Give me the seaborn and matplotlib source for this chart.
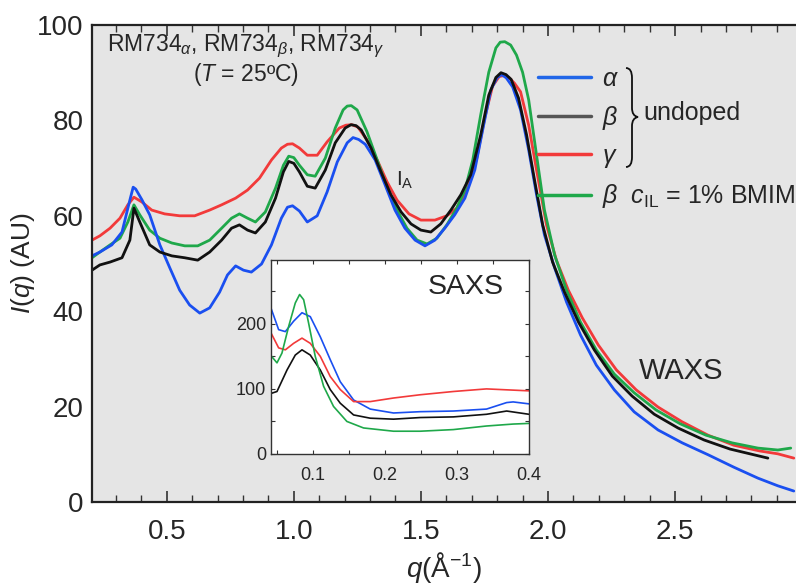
import numpy as np
import pandas as pd
import matplotlib
matplotlib.use("Agg")
import matplotlib.pyplot as plt
from matplotlib.lines import Line2D
from matplotlib.path import Path
from matplotlib.patches import PathPatch
import seaborn as sns

# ---------------- data ----------------
q_alpha = [0.206, 0.237, 0.284, 0.324, 0.355, 0.368, 0.378, 0.402, 0.433, 0.473, 0.512, 0.551, 0.590, 0.630, 0.669,
           0.708, 0.739, 0.771, 0.802, 0.833, 0.873, 0.912, 0.951, 0.975, 0.995, 1.022, 1.053, 1.092, 1.131, 1.171,
           1.210, 1.233, 1.255, 1.281, 1.320, 1.359, 1.398, 1.437, 1.477, 1.516, 1.555, 1.594, 1.633, 1.673, 1.712,
           1.743, 1.775, 1.800, 1.818, 1.836, 1.861, 1.892, 1.924, 1.955, 1.986, 2.026, 2.073, 2.128, 2.190, 2.261,
           2.339, 2.433, 2.528, 2.630, 2.731, 2.826, 2.904, 2.967]
I_alpha = [51.6, 52.4, 53.9, 56.6, 63.3, 66.0, 65.6, 63.4, 60.2, 53.9, 49.1, 44.4, 41.3, 39.6, 40.7,
           44.0, 47.6, 49.5, 48.6, 48.2, 49.9, 53.9, 59.5, 61.8, 62.1, 61.0, 58.7, 60.0, 65.0, 71.3,
           75.3, 76.4, 76.0, 75.0, 71.7, 66.5, 61.2, 57.4, 54.9, 53.7, 54.9, 57.4, 60.2, 63.7, 69.6,
           78.0, 86.4, 89.0, 89.6, 88.9, 87.0, 82.2, 73.8, 64.4, 56.0, 49.1, 41.9, 35.0, 28.7, 23.5,
           18.9, 15.1, 12.4, 9.9, 7.3, 5.0, 3.4, 2.3]

q_beta = [0.206, 0.237, 0.277, 0.324, 0.355, 0.371, 0.394, 0.433, 0.473, 0.520, 0.571, 0.622, 0.669, 0.716,
          0.755, 0.786, 0.818, 0.849, 0.888, 0.928, 0.959, 0.980, 1.000, 1.022, 1.053, 1.084, 1.124, 1.163, 1.202,
          1.225, 1.245, 1.265, 1.304, 1.343, 1.382, 1.422, 1.461, 1.500, 1.539, 1.578, 1.618, 1.657, 1.696, 1.735,
          1.767, 1.795, 1.815, 1.835, 1.855, 1.884, 1.916, 1.947, 1.979, 2.018, 2.065, 2.120, 2.182, 2.253, 2.331,
          2.418, 2.512, 2.614, 2.716, 2.810, 2.865]
I_beta = [48.6, 49.7, 50.3, 51.2, 54.9, 61.6, 58.7, 53.9, 52.4, 51.6, 51.2, 50.7, 52.4, 54.9,
          57.4, 58.1, 57.0, 56.4, 58.7, 63.7, 69.2, 71.4, 71.0, 69.2, 66.2, 65.8, 69.6, 75.3, 78.4,
          79.1, 78.9, 78.0, 74.2, 69.2, 64.4, 60.8, 58.3, 57.0, 56.6, 58.3, 61.2, 64.4, 68.6, 76.9,
          85.3, 89.0, 90.0, 89.6, 88.6, 84.7, 76.9, 67.5, 58.1, 50.3, 44.0, 37.7, 31.9, 26.4, 22.2,
          18.4, 15.5, 13.0, 11.1, 9.9, 9.2]

q_gamma = [0.206, 0.237, 0.277, 0.316, 0.347, 0.371, 0.402, 0.441, 0.492, 0.551, 0.610, 0.669, 0.716, 0.771,
           0.818, 0.865, 0.912, 0.951, 0.975, 0.995, 1.022, 1.053, 1.092, 1.131, 1.179, 1.205, 1.228, 1.252, 1.288, 1.328,
           1.367, 1.406, 1.453, 1.500, 1.555, 1.602, 1.641, 1.680, 1.720, 1.751, 1.782, 1.808, 1.828, 1.848, 1.868,
           1.892, 1.924, 1.955, 1.994, 2.033, 2.080, 2.135, 2.198, 2.269, 2.347, 2.433, 2.528, 2.630, 2.731,
           2.833, 2.904, 2.967]
I_gamma = [54.9, 55.8, 57.4, 59.5, 62.3, 63.9, 62.9, 61.2, 60.4, 60.0, 60.0, 61.2, 62.3, 63.7,
           65.4, 67.9, 71.7, 74.2, 75.0, 75.1, 74.2, 72.7, 72.7, 75.5, 78.4, 79.0, 79.1, 78.6, 75.9, 71.7,
           67.1, 63.3, 60.4, 59.1, 59.1, 60.0, 61.6, 65.4, 72.1, 80.5, 87.2, 89.2, 89.4, 88.9, 87.8,
           86.0, 79.0, 69.6, 58.1, 50.7, 44.4, 38.6, 32.9, 27.7, 23.5, 19.9, 16.8, 14.0, 11.9,
           10.7, 10.1, 9.2]

q_beta_il = [0.206, 0.237, 0.277, 0.316, 0.347, 0.371, 0.394, 0.433, 0.473, 0.520, 0.571, 0.622, 0.669, 0.716,
             0.755, 0.786, 0.818, 0.849, 0.888, 0.928, 0.959, 0.980, 1.000, 1.022, 1.053, 1.084, 1.124, 1.163, 1.194,
             1.210, 1.226, 1.249, 1.288, 1.328, 1.367, 1.406, 1.445, 1.485, 1.524, 1.563, 1.602, 1.641, 1.673, 1.704,
             1.735, 1.767, 1.795, 1.812, 1.830, 1.853, 1.876, 1.900, 1.924, 1.955, 1.986, 2.026, 2.073, 2.128, 2.190,
             2.261, 2.339, 2.425, 2.520, 2.622, 2.724, 2.826, 2.904, 2.955]
I_beta_il = [51.2, 52.4, 53.9, 55.3, 58.7, 62.3, 60.2, 57.0, 55.3, 54.3, 53.7, 53.7, 54.9, 57.4,
             59.5, 60.4, 59.5, 58.7, 60.8, 65.8, 70.6, 72.5, 72.2, 70.6, 68.6, 68.3, 72.1, 78.4, 82.2,
             83.0, 83.1, 82.2, 77.6, 71.7, 65.8, 61.2, 57.4, 54.9, 54.1, 55.3, 58.1, 61.6, 65.4, 71.7,
             81.1, 90.1, 95.2, 96.4, 96.5, 95.8, 93.7, 90.1, 84.3, 72.7, 61.2, 51.8, 44.4, 37.7, 31.9,
             26.8, 22.9, 19.3, 16.4, 14.0, 12.4, 11.3, 10.9, 11.3]

# inset (SAXS)
qs_alpha = [0.042, 0.0526, 0.0619, 0.0734, 0.085, 0.0965, 0.1104, 0.1242, 0.1381, 0.1566, 0.1797, 0.212,
            0.249, 0.295, 0.341, 0.369, 0.378, 0.400]
Is_alpha = [224, 191, 188, 204, 217, 211, 180, 145, 111, 83, 69, 63, 65, 66, 69, 79, 80, 77]
qs_gamma = [0.042, 0.0526, 0.0619, 0.0734, 0.085, 0.0965, 0.1104, 0.1242, 0.1381, 0.1566, 0.1797, 0.212,
            0.249, 0.295, 0.341, 0.400]
Is_gamma = [186, 163, 160, 170, 178, 170, 150, 119, 99, 80.5, 80.5, 86, 91, 96, 100, 97]
qs_beta = [0.042, 0.0503, 0.0642, 0.0757, 0.085, 0.0965, 0.1104, 0.1242, 0.1381, 0.1566, 0.1797, 0.212,
           0.249, 0.295, 0.341, 0.369, 0.400]
Is_beta = [93, 96, 129, 152, 160, 152, 129, 99, 78, 60, 55, 53.5, 56, 57, 61, 66, 61]
qs_beta_il = [0.042, 0.0503, 0.0572, 0.0665, 0.0757, 0.0817, 0.0873, 0.0942, 0.1034, 0.115, 0.1288, 0.1473,
              0.1704, 0.212, 0.249, 0.295, 0.341, 0.378, 0.400]
Is_beta_il = [151, 140, 155, 196, 232, 245, 237, 201, 150, 104, 73, 50, 40, 35, 35, 37.5, 43, 46, 47]

series_names = ["alpha", "beta", "gamma", "beta_il"]
colors = {"alpha": "#1a4ff0", "beta": "#111111", "gamma": "#f23a3a", "beta_il": "#1fa84a"}
legend_colors = {"alpha": "#2166e8", "beta": "#555555", "gamma": "#f23a3a", "beta_il": "#1fa84a"}

main_df = pd.concat([
    pd.DataFrame({"q": q_alpha, "I": I_alpha, "s": "alpha"}),
    pd.DataFrame({"q": q_beta, "I": I_beta, "s": "beta"}),
    pd.DataFrame({"q": q_gamma, "I": I_gamma, "s": "gamma"}),
    pd.DataFrame({"q": q_beta_il, "I": I_beta_il, "s": "beta_il"}),
])
saxs_df = pd.concat([
    pd.DataFrame({"q": qs_alpha, "I": Is_alpha, "s": "alpha"}),
    pd.DataFrame({"q": qs_beta, "I": Is_beta, "s": "beta"}),
    pd.DataFrame({"q": qs_gamma, "I": Is_gamma, "s": "gamma"}),
    pd.DataFrame({"q": qs_beta_il, "I": Is_beta_il, "s": "beta_il"}),
])

# ---------------- style ----------------
sns.set_style("ticks")
plt.rcParams["font.family"] = ["Liberation Sans", "DejaVu Sans"]
plt.rcParams["mathtext.fontset"] = "custom"
plt.rcParams["mathtext.rm"] = "Liberation Sans"
plt.rcParams["mathtext.it"] = "Liberation Sans:italic"
plt.rcParams["mathtext.bf"] = "Liberation Sans:bold"
plt.rcParams["axes.unicode_minus"] = False

W, H = 796, 587
fig = plt.figure(figsize=(W / 100, H / 100), dpi=100)
ax = fig.add_axes([92 / W, 1 - 502 / H, (W - 92) / W + 0.01, (502 - 25) / H])
ax.set_facecolor("#e5e5e5")

draw_order = ["gamma", "beta_il", "alpha", "beta"]
for s in draw_order:
    d = main_df[main_df.s == s]
    sns.lineplot(data=d, x="q", y="I", ax=ax, color=colors[s], lw=2.0, sort=False,
                 estimator=None, legend=False)

ax.set_xlim(0.206, 2.967 + 0.04)
ax.set_ylim(0, 100)
ax.set_xticks([0.5, 1.0, 1.5, 2.0, 2.5])
ax.set_xticklabels(["0.5", "1.0", "1.5", "2.0", "2.5"])
ax.set_xticks(np.arange(0.3, 3.0, 0.1), minor=True)
ax.set_yticks([0, 20, 40, 60, 80, 100])
ax.tick_params(axis="x", which="major", direction="in", length=8, width=1.2, top=True,
               labelsize=20, pad=12, color="#333")
ax.tick_params(axis="x", which="minor", direction="in", length=5, width=1.0, top=True, color="#333")
ax.tick_params(axis="y", which="both", length=0, labelsize=20, pad=6)
for sp in ax.spines.values():
    sp.set_linewidth(1.6)
    sp.set_color("#222222")
ax.set_xlabel(r"$q$(Å$^{\mathregular{-1}}$)", fontsize=20, labelpad=6)
ax.set_ylabel(r"$I$($q$) (AU)", fontsize=19, labelpad=0)
ax.xaxis.set_label_coords((444 - 92) / (W - 92 + 0.01 * W), -0.1)

# annotations
fig.text(246 / W, 1 - 46 / H, r"RM734$_{\alpha}$, RM734$_{\beta}$, RM734$_{\gamma}$",
         ha="center", va="center", fontsize=16.5)
fig.text(246 / W, 1 - 75 / H, r"($T$ = 25ºC)", ha="center", va="center", fontsize=16.5)
fig.text(405 / W, 1 - 180 / H, r"I$_{\mathregular{A}}$", ha="center", va="center", fontsize=15)
fig.text(681 / W, 1 - 371 / H, "WAXS", ha="center", va="center", fontsize=21)

# legend
handles = [Line2D([], [], color=legend_colors[s], lw=2.5) for s in series_names]
labels = [r"$\alpha$", r"$\beta$", r"$\gamma$", r"$\beta$  $c_{\mathregular{IL}}$ = 1% BMIM"]
leg = ax.legend(handles, labels, loc="upper left", bbox_to_anchor=(538 / W, 1 - 67 / H),
                bbox_transform=fig.transFigure, frameon=False, fontsize=18,
                handlelength=2.1, handletextpad=0.45, labelspacing=0.5, borderaxespad=0, borderpad=0)

# brace and "undoped"
pts = [(626, 68), (632, 68), (632, 78), (632, 108), (632, 116), (638, 117), (632, 118), (632, 126),
       (632, 157), (632, 167), (626, 167)]
codes = [Path.MOVETO, Path.CURVE3, Path.CURVE3, Path.LINETO, Path.CURVE3, Path.CURVE3, Path.CURVE3,
         Path.CURVE3, Path.LINETO, Path.CURVE3, Path.CURVE3]
brace = Path([(x / W, 1 - y / H) for x, y in pts], codes)
fig.add_artist(PathPatch(brace, transform=fig.transFigure, fill=False, lw=1.3, ec="#111111"))
fig.text(643 / W, 1 - 113 / H, "undoped", ha="left", va="center", fontsize=18)

# ---------------- inset ----------------
axin = fig.add_axes([271 / W, 1 - 454 / H, (529 - 271) / W, (454 - 260) / H])
axin.set_facecolor("white")
for s in ["alpha", "gamma", "beta", "beta_il"]:
    d = saxs_df[saxs_df.s == s]
    sns.lineplot(data=d, x="q", y="I", ax=axin, color=colors[s], lw=1.2, sort=False,
                 estimator=None, legend=False)
axin.set_xlim(0.042, 0.4)
axin.set_ylim(0, 298)
axin.set_xticks([0.1, 0.2, 0.3, 0.4])
axin.set_xticklabels(["0.1", "0.2", "0.3", "0.4"])
axin.set_xticks([0.05, 0.15, 0.25, 0.35], minor=True)
axin.set_yticks([0, 100, 200])
axin.set_yticks([50, 150, 250], minor=True)
axin.tick_params(which="both", direction="in", length=3, width=0.8, top=True, right=True,
                 labelsize=13, color="#333")
axin.tick_params(axis="x", pad=9)
axin.set_xlabel("")
axin.set_ylabel("")
for sp in axin.spines.values():
    sp.set_linewidth(1.0)
    sp.set_color("#333333")
axin.text(0.755, 0.86, "SAXS", transform=axin.transAxes, ha="center", va="center", fontsize=20.5)

fig.savefig("out.png", dpi=100)
